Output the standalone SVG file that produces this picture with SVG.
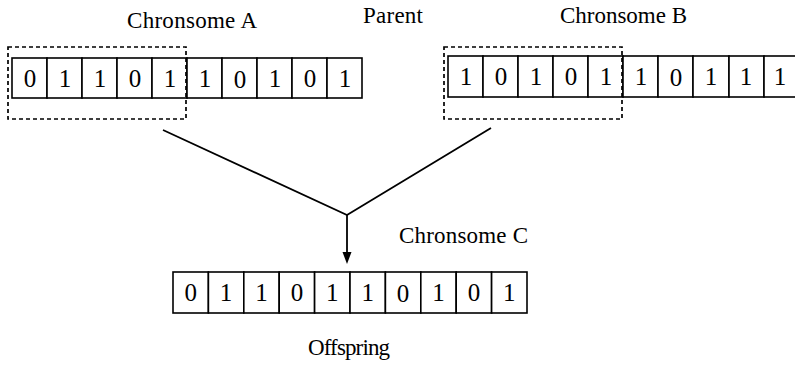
<svg xmlns="http://www.w3.org/2000/svg" width="795" height="366" viewBox="0 0 795 366">
<style>
text{font-family:"Liberation Serif","Times New Roman",serif;fill:#000}
.lbl{font-size:23px}
.dg{font-size:25px;text-anchor:middle}
.cell{fill:#fff;stroke:#000;stroke-width:1.6}
.dash{fill:none;stroke:#000;stroke-width:1.7;stroke-dasharray:4 3}
.conn{fill:none;stroke:#000;stroke-width:1.8}
</style>
<rect width="795" height="366" fill="#fff"/>
<g id="label-parent"><text class="lbl" x="363" y="23" textLength="60">Parent</text></g>
<g id="chromosome-a">
<text class="lbl" x="127" y="28" textLength="130">Chronsome A</text>
<rect class="cell" x="12" y="58" width="35" height="40"/>
<rect class="cell" x="47" y="58" width="35" height="40"/>
<rect class="cell" x="82" y="58" width="35" height="40"/>
<rect class="cell" x="117" y="58" width="35" height="40"/>
<rect class="cell" x="152" y="58" width="35" height="40"/>
<rect class="cell" x="187" y="58" width="35" height="40"/>
<rect class="cell" x="222" y="58" width="35" height="40"/>
<rect class="cell" x="257" y="58" width="35" height="40"/>
<rect class="cell" x="292" y="58" width="35" height="40"/>
<rect class="cell" x="327" y="58" width="35" height="40"/>
<text class="dg" x="30" y="87">0</text>
<text class="dg" x="65" y="87">1</text>
<text class="dg" x="100" y="87">1</text>
<text class="dg" x="135" y="87">0</text>
<text class="dg" x="170" y="87">1</text>
<text class="dg" x="205" y="87">1</text>
<text class="dg" x="240" y="88">0</text>
<text class="dg" x="275" y="87">1</text>
<text class="dg" x="310" y="87">0</text>
<text class="dg" x="345" y="87">1</text>
<rect class="dash" x="8" y="47" width="178" height="72"/>
</g>
<g id="chromosome-b">
<text class="lbl" x="560" y="23" textLength="127">Chronsome B</text>
<rect class="cell" x="448" y="56" width="35" height="41"/>
<rect class="cell" x="483" y="56" width="35" height="41"/>
<rect class="cell" x="518" y="56" width="35" height="41"/>
<rect class="cell" x="553" y="56" width="35" height="41"/>
<rect class="cell" x="588" y="56" width="35" height="41"/>
<rect class="cell" x="623" y="56" width="35" height="41"/>
<rect class="cell" x="658" y="56" width="35" height="41"/>
<rect class="cell" x="693" y="56" width="36" height="41"/>
<rect class="cell" x="729" y="56" width="35" height="41"/>
<rect class="cell" x="764" y="56" width="36" height="41"/>
<text class="dg" x="466" y="85">1</text>
<text class="dg" x="501" y="85">0</text>
<text class="dg" x="536" y="85">1</text>
<text class="dg" x="571" y="85">0</text>
<text class="dg" x="606" y="85">1</text>
<text class="dg" x="641" y="85">1</text>
<text class="dg" x="676" y="86">0</text>
<text class="dg" x="711" y="85">1</text>
<text class="dg" x="746" y="85">1</text>
<text class="dg" x="780" y="85">1</text>
<rect class="dash" x="444" y="47" width="178" height="72"/>
</g>
<g id="connectors">
<polyline class="conn" points="163,130 347,215 491,128"/>
<line class="conn" x1="347" y1="215" x2="347" y2="254"/>
<polygon points="342.5,252 351.5,252 347,264" fill="#000"/>
</g>
<g id="chromosome-c">
<text class="lbl" x="399" y="243" textLength="129">Chronsome C</text>
<rect class="cell" x="173" y="272" width="35.4" height="41"/>
<rect class="cell" x="208.4" y="272" width="35.4" height="41"/>
<rect class="cell" x="243.8" y="272" width="35.4" height="41"/>
<rect class="cell" x="279.2" y="272" width="35.4" height="41"/>
<rect class="cell" x="314.6" y="272" width="35.4" height="41"/>
<rect class="cell" x="350" y="272" width="35.4" height="41"/>
<rect class="cell" x="385.4" y="272" width="35.4" height="41"/>
<rect class="cell" x="420.8" y="272" width="35.4" height="41"/>
<rect class="cell" x="456.2" y="272" width="35.4" height="41"/>
<rect class="cell" x="491.6" y="272" width="35.4" height="41"/>
<text class="dg" x="190.7" y="301">0</text>
<text class="dg" x="226.1" y="301">1</text>
<text class="dg" x="261.5" y="301">1</text>
<text class="dg" x="296.9" y="301">0</text>
<text class="dg" x="332.3" y="301">1</text>
<text class="dg" x="367.7" y="301">1</text>
<text class="dg" x="403.1" y="302">0</text>
<text class="dg" x="438.5" y="301">1</text>
<text class="dg" x="473.9" y="301">0</text>
<text class="dg" x="509.3" y="301">1</text>
</g>
<g id="label-offspring"><text class="lbl" x="308" y="355" textLength="82">Offspring</text></g>
</svg>
